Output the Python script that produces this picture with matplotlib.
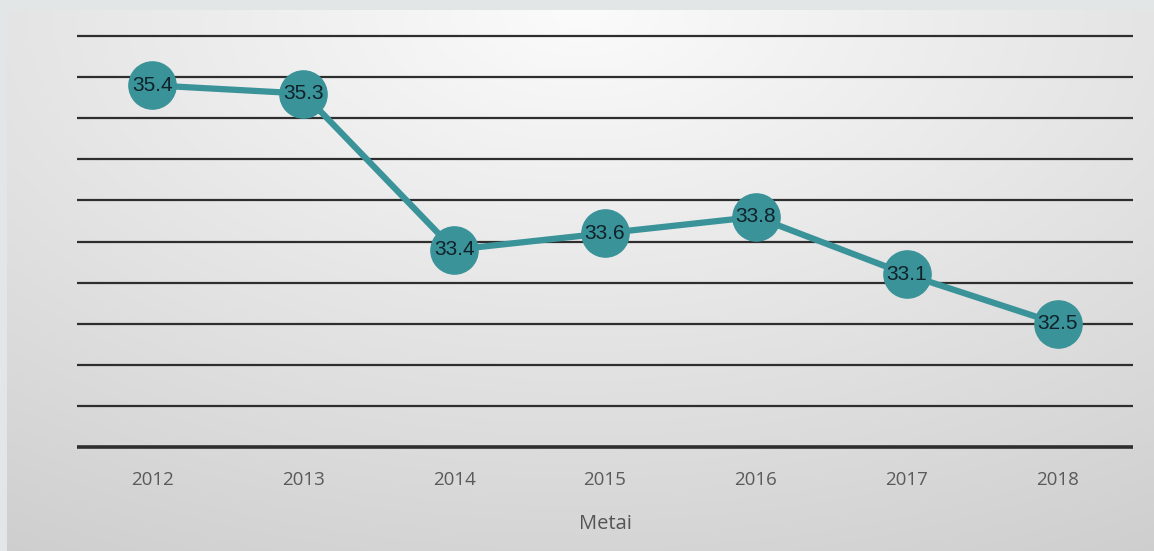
import numpy as np
import matplotlib
matplotlib.use("Agg")
import matplotlib.pyplot as plt

years = ["2012", "2013", "2014", "2015", "2016", "2017", "2018"]
values = [35.4, 35.3, 33.4, 33.6, 33.8, 33.1, 32.5]
y_gridlines = [31.0, 31.5, 32.0, 32.5, 33.0, 33.5, 34.0, 34.5, 35.0, 35.5, 36.0]
x_title = "Metai"

W, H = 1154, 551
fig = plt.figure(figsize=(W / 100, H / 100), dpi=100)
fig.patch.set_facecolor("#e3e6e7")

# Shaded panel behind the chart
bg = fig.add_axes([7 / W, 0, 1 - 7 / W, 1 - 10 / H])
bg.set_axis_off()
ny, nx = 200, 400
yy, xx = np.mgrid[0:1:ny * 1j, -1:1:nx * 1j]
r = np.sqrt((xx * 0.6) ** 2 + (yy * 1.0) ** 2)
shade = 0.985 - 0.18 * np.clip(r, 0, 1.2) / 1.2
bg.imshow(np.dstack([shade, shade, shade]), aspect="auto", extent=[0, 1, 0, 1],
          interpolation="bilinear")
bg.set_xlim(0, 1)
bg.set_ylim(0, 1)

ax = fig.add_axes([77 / W, 1 - 447 / H, (1133 - 77) / W, (447 - 36) / H])
ax.patch.set_alpha(0)
for s in ax.spines.values():
    s.set_visible(False)

x = np.arange(len(years))
ax.set_xlim(-0.5, len(years) - 0.5)
ax.set_ylim(y_gridlines[0], y_gridlines[-1])

for i, g in enumerate(y_gridlines):
    ax.axhline(g, color="#2e2e2e", lw=2.6 if i == 0 else 1.6, zorder=1,
               solid_capstyle="butt", clip_on=False)

ax.plot(x, values, color="#3a9399", lw=4.5, marker="o", markersize=34,
        markerfacecolor="#3a9399", markeredgecolor="#3a9399", zorder=3)

for xi, v in zip(x, values):
    ax.text(xi, v, f"{v:.1f}", ha="center", va="center", fontsize=15,
            color="#10222a", family="Liberation Sans", zorder=4)

ax.set_xticks(x)
ax.set_xticklabels(years, fontsize=13.5, color="#5a5a5a", family="Open Sans")
ax.tick_params(axis="x", length=0, pad=17)
ax.set_yticks([])
ax.set_xlabel(x_title, fontsize=14.5, color="#555555", family="Open Sans",
              labelpad=18)

fig.savefig("out.png", dpi=100, facecolor=fig.get_facecolor())
